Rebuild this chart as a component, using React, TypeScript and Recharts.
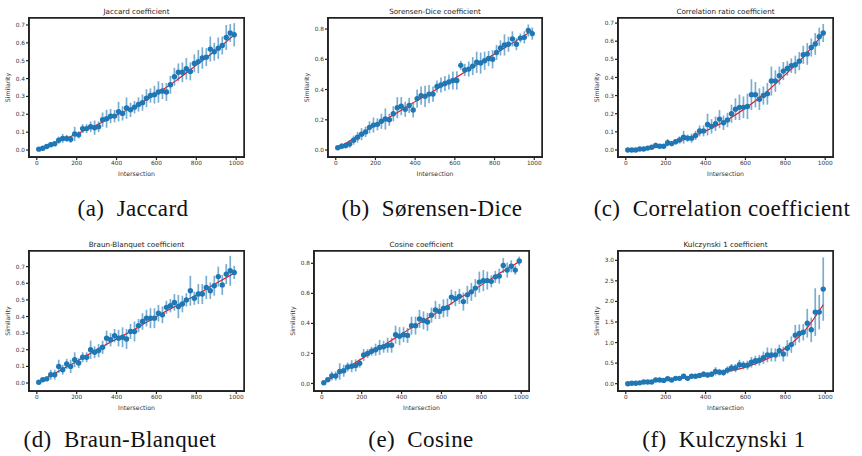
import { ComposedChart, Scatter, Line, XAxis, YAxis, ErrorBar, ReferenceArea } from 'recharts'

// intersection sizes sampled in every panel
const intersections = [
  10, 30, 50, 70, 90, 110, 130, 150, 170, 190, 210, 230, 250, 270, 290, 310, 330, 350, 370, 390,
  410, 430, 450, 470, 490, 510, 530, 550, 570, 590, 610, 630, 650, 670, 690, 710, 730, 750, 770, 790,
  810, 830, 850, 870, 890, 910, 930, 950, 970, 990,
]
const fitX = [10, 100, 200, 300, 400, 500, 600, 700, 800, 900, 990]
const xTicks = [0, 200, 400, 600, 800, 1000]
const ticks07 = [0, 0.1, 0.2, 0.3, 0.4, 0.5, 0.6, 0.7]
const ticks08 = [0, 0.2, 0.4, 0.6, 0.8]
const ticks30 = [0, 0.5, 1, 1.5, 2, 2.5, 3]

const jaccardY = [
  0.005, 0.01, 0.02, 0.03, 0.035, 0.055, 0.065, 0.065, 0.06, 0.09, 0.085, 0.12, 0.12, 0.13, 0.125, 0.13, 0.17, 0.175, 0.19, 0.19,
  0.215, 0.205, 0.235, 0.225, 0.24, 0.255, 0.265, 0.29, 0.305, 0.31, 0.325, 0.33, 0.325, 0.365, 0.41, 0.435, 0.435, 0.455, 0.44, 0.485,
  0.495, 0.515, 0.52, 0.565, 0.55, 0.57, 0.585, 0.63, 0.655, 0.645,
]
const jaccardErr = [
  0.005, 0.008, 0.01, 0.015, 0.012, 0.02, 0.025, 0.02, 0.02, 0.04, 0.02, 0.025, 0.025, 0.03, 0.04, 0.03, 0.04, 0.05, 0.04, 0.035,
  0.055, 0.04, 0.06, 0.04, 0.035, 0.04, 0.045, 0.05, 0.04, 0.05, 0.06, 0.045, 0.05, 0.05, 0.05, 0.05, 0.055, 0.06, 0.05, 0.05,
  0.065, 0.06, 0.05, 0.07, 0.05, 0.06, 0.05, 0.07, 0.05, 0.065,
]
const jaccardFit = [0.005, 0.045, 0.09, 0.14, 0.195, 0.25, 0.315, 0.39, 0.475, 0.56, 0.645]

const diceY = [
  0.015, 0.025, 0.03, 0.04, 0.065, 0.085, 0.105, 0.12, 0.15, 0.165, 0.17, 0.19, 0.205, 0.2, 0.24, 0.28, 0.29, 0.27, 0.295, 0.265,
  0.34, 0.36, 0.355, 0.37, 0.37, 0.42, 0.43, 0.44, 0.45, 0.46, 0.46, 0.56, 0.53, 0.535, 0.555, 0.58, 0.575, 0.59, 0.605, 0.6,
  0.645, 0.675, 0.695, 0.7, 0.735, 0.7, 0.74, 0.745, 0.79, 0.77,
]
const diceErr = [
  0.015, 0.02, 0.02, 0.025, 0.03, 0.035, 0.04, 0.035, 0.04, 0.05, 0.04, 0.05, 0.07, 0.04, 0.05, 0.07, 0.06, 0.05, 0.05, 0.05,
  0.06, 0.06, 0.07, 0.06, 0.05, 0.04, 0.05, 0.05, 0.05, 0.06, 0.06, 0.03, 0.04, 0.05, 0.06, 0.07, 0.07, 0.06, 0.05, 0.06,
  0.05, 0.05, 0.07, 0.05, 0.05, 0.04, 0.03, 0.04, 0.04, 0.04,
]
const diceFit = [0.01, 0.085, 0.165, 0.24, 0.32, 0.395, 0.475, 0.555, 0.635, 0.715, 0.79]

const corrY = [
  0.0, 0.0, 0.0, 0.005, 0.005, 0.01, 0.015, 0.025, 0.02, 0.02, 0.04, 0.035, 0.045, 0.055, 0.07, 0.065, 0.065, 0.08, 0.105, 0.105,
  0.14, 0.13, 0.145, 0.17, 0.15, 0.165, 0.2, 0.225, 0.235, 0.235, 0.24, 0.305, 0.305, 0.28, 0.3, 0.31, 0.38, 0.38, 0.41, 0.435,
  0.45, 0.465, 0.47, 0.49, 0.525, 0.53, 0.565, 0.585, 0.625, 0.645,
]
const corrErr = [
  0.003, 0.003, 0.003, 0.005, 0.005, 0.008, 0.01, 0.015, 0.01, 0.012, 0.02, 0.015, 0.015, 0.02, 0.035, 0.02, 0.025, 0.025, 0.03, 0.03,
  0.06, 0.04, 0.04, 0.05, 0.04, 0.04, 0.05, 0.06, 0.07, 0.06, 0.07, 0.085, 0.07, 0.06, 0.05, 0.06, 0.08, 0.06, 0.05, 0.05,
  0.04, 0.04, 0.05, 0.05, 0.05, 0.06, 0.05, 0.06, 0.05, 0.05,
]
const corrFit = [0.0, 0.005, 0.025, 0.06, 0.105, 0.16, 0.23, 0.315, 0.415, 0.525, 0.64]

const braunY = [
  0.005, 0.02, 0.025, 0.05, 0.05, 0.1, 0.08, 0.115, 0.1, 0.14, 0.12, 0.155, 0.155, 0.2, 0.185, 0.195, 0.215, 0.27, 0.26, 0.285,
  0.27, 0.275, 0.265, 0.31, 0.31, 0.345, 0.37, 0.39, 0.39, 0.39, 0.42, 0.41, 0.455, 0.465, 0.485, 0.46, 0.475, 0.5, 0.555, 0.51,
  0.535, 0.535, 0.575, 0.555, 0.585, 0.64, 0.59, 0.655, 0.675, 0.665,
]
const braunErr = [
  0.005, 0.01, 0.015, 0.03, 0.03, 0.04, 0.03, 0.03, 0.04, 0.045, 0.03, 0.03, 0.03, 0.055, 0.035, 0.04, 0.04, 0.045, 0.04, 0.04,
  0.05, 0.06, 0.06, 0.045, 0.06, 0.04, 0.05, 0.05, 0.06, 0.06, 0.05, 0.05, 0.04, 0.04, 0.05, 0.07, 0.05, 0.04, 0.09, 0.04,
  0.06, 0.06, 0.07, 0.05, 0.06, 0.06, 0.06, 0.06, 0.09, 0.04,
]
const braunFit = [0.005, 0.065, 0.13, 0.2, 0.265, 0.33, 0.4, 0.465, 0.53, 0.6, 0.66]

const cosineY = [
  0.005, 0.025, 0.05, 0.05, 0.08, 0.085, 0.11, 0.115, 0.12, 0.135, 0.19, 0.2, 0.215, 0.225, 0.24, 0.245, 0.255, 0.255, 0.325, 0.315,
  0.325, 0.32, 0.385, 0.385, 0.43, 0.42, 0.41, 0.455, 0.49, 0.48, 0.5, 0.505, 0.575, 0.565, 0.58, 0.545, 0.59, 0.61, 0.635, 0.675,
  0.685, 0.685, 0.68, 0.71, 0.715, 0.785, 0.755, 0.78, 0.755, 0.815,
]
const cosineErr = [
  0.01, 0.015, 0.03, 0.03, 0.055, 0.04, 0.03, 0.04, 0.04, 0.03, 0.04, 0.03, 0.03, 0.04, 0.05, 0.04, 0.05, 0.05, 0.06, 0.06,
  0.05, 0.05, 0.06, 0.06, 0.06, 0.06, 0.06, 0.05, 0.06, 0.05, 0.06, 0.06, 0.05, 0.05, 0.05, 0.06, 0.06, 0.06, 0.06, 0.07,
  0.07, 0.06, 0.04, 0.04, 0.05, 0.05, 0.05, 0.04, 0.03, 0.03,
]
const cosineFit = [0.005, 0.08, 0.165, 0.245, 0.33, 0.41, 0.49, 0.575, 0.655, 0.74, 0.81]

const kulczY = [
  0.0, 0.01, 0.01, 0.02, 0.04, 0.04, 0.04, 0.09, 0.09, 0.08, 0.12, 0.09, 0.13, 0.13, 0.18, 0.13, 0.18, 0.18, 0.2, 0.23,
  0.21, 0.23, 0.3, 0.28, 0.27, 0.33, 0.38, 0.38, 0.46, 0.45, 0.45, 0.52, 0.56, 0.57, 0.63, 0.7, 0.7, 0.7, 0.8, 0.72,
  0.86, 0.95, 1.18, 1.22, 1.25, 1.47, 1.31, 1.74, 1.74, 2.3,
]
const kulczErr = [
  0.01, 0.01, 0.02, 0.02, 0.03, 0.03, 0.03, 0.04, 0.04, 0.03, 0.05, 0.04, 0.05, 0.05, 0.06, 0.05, 0.05, 0.05, 0.06, 0.07,
  0.06, 0.07, 0.1, 0.08, 0.08, 0.09, 0.1, 0.1, 0.12, 0.1, 0.11, 0.13, 0.12, 0.13, 0.15, 0.18, 0.16, 0.16, 0.15, 0.18,
  0.2, 0.2, 0.25, 0.22, 0.2, 0.35, 0.3, 0.58, 0.42, 0.77,
]
const kulczFit = [0.0, 0.04, 0.09, 0.14, 0.21, 0.29, 0.4, 0.58, 0.86, 1.3, 1.92]

const BLUE = '#1f77b4'
const AXIS = '#333'
const SPINE = '#222'
const X_DOMAIN = [-39, 1039]
const SANS = '"DejaVu Sans", sans-serif'

type PanelProps = {
  title: string
  ys: number[]
  errs: number[]
  fit: number[]
  ticks: number[]
  domain: number[]
  left: number
  top: number
  w: number
  h: number
}

function Panel({ title, ys, errs, fit, ticks, domain, left, top, w, h }: PanelProps) {
  const points = intersections.map((x, i) => ({ x, y: ys[i], err: errs[i] }))
  const fitData = fitX.map((x, i) => ({ x, y: fit[i] }))
  const yW = 30
  const xH = 22
  const mTop = 14
  const tick = { fill: AXIS, fontSize: 5.8, fontFamily: SANS }
  const labelFont = { fill: AXIS, fontSize: 6.2, fontFamily: SANS }
  return (
    <>
      <div style={{ position: 'absolute', left: left - yW, top: top - mTop }}>
        <ComposedChart width={yW + w + 3} height={mTop + h + xH + 1} margin={{ top: mTop, right: 3, bottom: 1, left: 0 }}>
          <XAxis
            type="number" dataKey="x" domain={X_DOMAIN} ticks={xTicks} allowDataOverflow
            height={xH} axisLine={{ stroke: SPINE, strokeWidth: 1.5 }} tickSize={3} tickMargin={1} tick={tick}
            tickLine={{ stroke: SPINE, strokeWidth: 1.2 }}
            label={{ value: 'Intersection', position: 'insideBottom', offset: 3, ...labelFont }}
          />
          <YAxis
            type="number" domain={domain} ticks={ticks} allowDataOverflow width={yW}
            axisLine={{ stroke: SPINE, strokeWidth: 1.5 }} tickSize={3} tickMargin={1} tick={tick}
            tickLine={{ stroke: SPINE, strokeWidth: 1.2 }}
            tickFormatter={(v: number) => v.toFixed(1)}
            label={(p: any) => {
              const vb = p.viewBox || {}
              const cx = vb.x + vb.width - 22
              const cy = vb.y + vb.height / 2
              return (
                <g>
                  <text x={cx} y={cy} transform={`rotate(-90 ${cx} ${cy})`} textAnchor="middle" dominantBaseline="central" {...labelFont}>
                    Similarity
                  </text>
                  <text x={cx + 22 + w / 2} y={vb.y - 7} textAnchor="middle" dominantBaseline="central" fill="#222" fontSize={7.2} fontFamily={SANS}>
                    {title}
                  </text>
                </g>
              )
            }}
          />
          {/* axes frame */}
          <ReferenceArea
            x1={X_DOMAIN[0]} x2={X_DOMAIN[1]} y1={domain[0]} y2={domain[1]}
            fill="none" fillOpacity={0} stroke={SPINE} strokeWidth={1.5} strokeOpacity={1} ifOverflow="visible"
          />
          <Line
            data={fitData} dataKey="y" type="monotone" stroke="#ff0000"
            strokeWidth={1.1} dot={false} isAnimationActive={false}
          />
          <Scatter
            data={points} dataKey="y" isAnimationActive={false}
            shape={(p: any) => <circle cx={p.cx} cy={p.cy} r={2.7} fill={BLUE} />}
          >
            <ErrorBar dataKey="err" direction="y" width={0} stroke={BLUE} strokeOpacity={0.6} strokeWidth={1.7} isAnimationActive={false} />
          </Scatter>
        </ComposedChart>
      </div>
      <div
        style={{
          position: 'absolute', left, top, width: w, height: h,
          boxShadow: `0 0 0 1px ${SPINE}`, pointerEvents: 'none', zIndex: 5,
        }}
      />
    </>
  )
}

function Caption({ text, cx, cy }: { text: string; cx: number; cy: number }) {
  return (
    <div
      style={{
        position: 'absolute', left: cx - 160, top: cy - 14, width: 320, textAlign: 'center',
        fontSize: 23, lineHeight: '28px', letterSpacing: 0.4, fontFamily: '"Liberation Serif", serif', color: '#111', whiteSpace: 'pre',
      }}
    >
      {text}
    </div>
  )
}

export default function App() {
  return (
    <div style={{ position: 'relative', width: 862, height: 456, background: '#fff', overflow: 'hidden' }}>
      <style>{'body{margin:0}'}</style>
      <Panel title="Jaccard coefficient" ys={jaccardY} errs={jaccardErr} fit={jaccardFit} ticks={ticks07} domain={[-0.039, 0.739]} left={29} top={18} w={215} h={139} />
      <Panel title="Sorensen-Dice coefficient" ys={diceY} errs={diceErr} fit={diceFit} ticks={ticks08} domain={[-0.046, 0.873]} left={328} top={18} w={214} h={139} />
      <Panel title="Correlation ratio coefficient" ys={corrY} errs={corrErr} fit={corrFit} ticks={ticks07} domain={[-0.039, 0.728]} left={618} top={18} w={215} h={139} />
      <Panel title="Braun-Blanquet coefficient" ys={braunY} errs={braunErr} fit={braunFit} ticks={ticks07} domain={[-0.048, 0.794]} left={29} top={251} w={215} h={140} />
      <Panel title="Cosine coefficient" ys={cosineY} errs={cosineErr} fit={cosineFit} ticks={ticks08} domain={[-0.05, 0.882]} left={314} top={251} w={215} h={140} />
      <Panel title="Kulczynski 1 coefficient" ys={kulczY} errs={kulczErr} fit={kulczFit} ticks={ticks30} domain={[-0.178, 3.226]} left={618} top={251} w={215} h={140} />
      <Caption text="(a)  Jaccard" cx={133} cy={209} />
      <Caption text="(b)  Sørensen-Dice" cx={432} cy={209} />
      <Caption text="(c)  Correlation coefficient" cx={722} cy={209} />
      <Caption text="(d)  Braun-Blanquet" cx={120} cy={440} />
      <Caption text="(e)  Cosine" cx={421} cy={440} />
      <Caption text="(f)  Kulczynski 1" cx={724} cy={440} />
    </div>
  )
}
